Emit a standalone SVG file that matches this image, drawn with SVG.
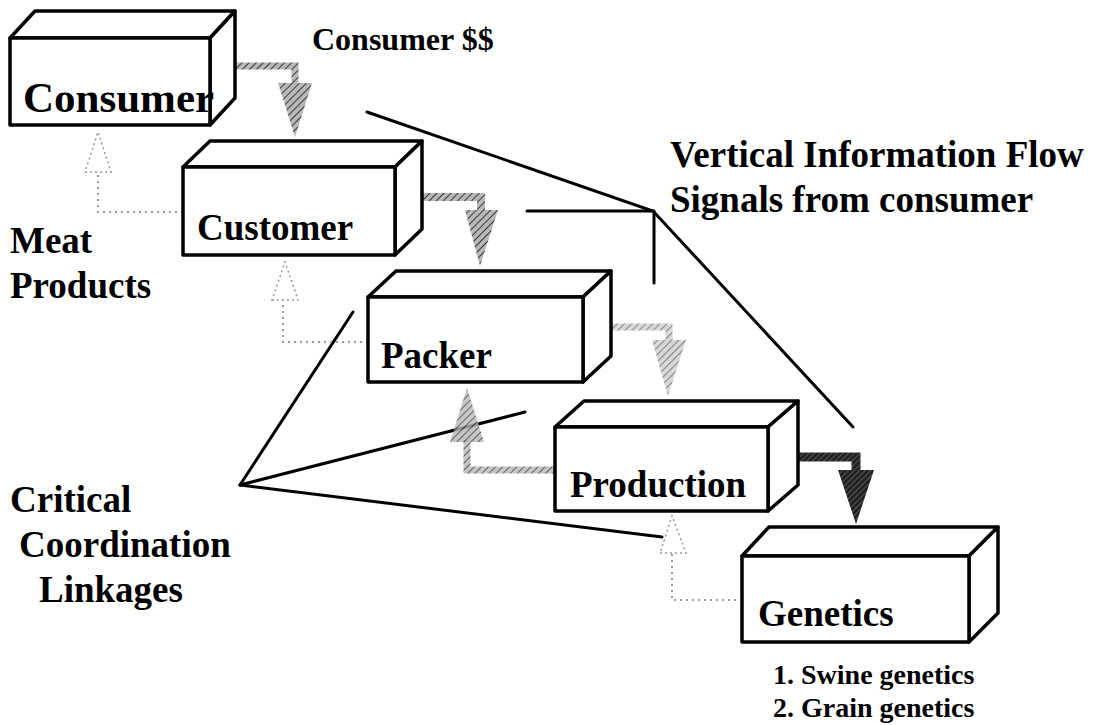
<svg xmlns="http://www.w3.org/2000/svg" width="1106" height="725" viewBox="0 0 1106 725">
<defs>
<pattern id="hatchMid" width="5" height="5" patternUnits="userSpaceOnUse" patternTransform="rotate(45)">
<rect width="5" height="5" fill="#b8b8b8"/>
<line x1="0" y1="0" x2="0" y2="5" stroke="#3a3a3a" stroke-width="2"/>
</pattern>
<pattern id="hatchLight" width="5" height="5" patternUnits="userSpaceOnUse" patternTransform="rotate(45)">
<rect width="5" height="5" fill="#d8d8d8"/>
<line x1="0" y1="0" x2="0" y2="5" stroke="#6a6a6a" stroke-width="1.5"/>
</pattern>
<pattern id="hatchDark" width="4" height="4" patternUnits="userSpaceOnUse" patternTransform="rotate(45)">
<rect width="4" height="4" fill="#222"/>
<line x1="0" y1="0" x2="0" y2="4" stroke="#888" stroke-width="1"/>
</pattern>
</defs>
<style>
.box{fill:#fff;stroke:#000;stroke-width:3.5;stroke-linejoin:round}
.lbl{font-family:"Liberation Serif","Times New Roman",serif;font-weight:bold;fill:#000}
.big{font-size:37px}
.line{stroke:#000;stroke-width:3;fill:none;stroke-linecap:round}
.faint{stroke:#9a9a9a;stroke-width:2;fill:none;stroke-dasharray:2 4}
.fainthead{fill:none;stroke:#9a9a9a;stroke-width:1.5;stroke-dasharray:2 3}
</style>

<g id="connectors">
<polyline class="line" points="367,112 653,211 853,427"/>
<line class="line" x1="527" y1="211" x2="653" y2="211"/>
<line class="line" x1="654" y1="211" x2="654" y2="283"/>
<line class="line" x1="240" y1="485" x2="353" y2="312"/>
<line class="line" x1="240" y1="485" x2="525" y2="412"/>
<line class="line" x1="240" y1="485" x2="662" y2="537"/>

<path d="M235,66 H295 V86" fill="none" stroke="url(#hatchMid)" stroke-width="7"/>
<polygon points="278,83 312,83 295,137" fill="url(#hatchMid)"/>
<path d="M422,197 H481 V212" fill="none" stroke="url(#hatchMid)" stroke-width="8"/>
<polygon points="465,210 498,210 480,266" fill="url(#hatchMid)"/>
<path d="M611,327 H669 V342" fill="none" stroke="url(#hatchLight)" stroke-width="7"/>
<polygon points="652,340 686,340 668,396" fill="url(#hatchLight)"/>
<path d="M798,457 H856 V472" fill="none" stroke="url(#hatchDark)" stroke-width="9"/>
<polygon points="838,470 874,470 856,524" fill="url(#hatchDark)"/>

<path d="M555,470 H467 V440" fill="none" stroke="url(#hatchMid)" stroke-width="7" opacity="0.8"/>
<polygon points="450,442 484,442 467,388" fill="url(#hatchMid)" opacity="0.8"/>
<path class="faint" d="M742,600 H672 V553"/>
<polygon class="fainthead" points="660,553 686,553 672,516"/>
<path class="faint" d="M368,342 H283 V300"/>
<polygon class="fainthead" points="272,300 298,300 285,262"/>
<path class="faint" d="M183,212 H98 V172"/>
<polygon class="fainthead" points="85,172 111,172 98,132"/>
</g>

<g id="consumer">
<polygon class="box" points="10,38 35,11 235,11 210,38"/>
<polygon class="box" points="210,38 235,11 235,98 210,125"/>
<rect class="box" x="10" y="38" width="200" height="87"/>
<text class="lbl" x="23" y="112" font-size="43">Consumer</text>
</g>

<g id="customer">
<polygon class="box" points="183,167 210,141 422,141 395,167"/>
<polygon class="box" points="395,167 422,141 422,229 395,255"/>
<rect class="box" x="183" y="167" width="212" height="88"/>
<text class="lbl big" x="197" y="240">Customer</text>
</g>

<g id="packer">
<polygon class="box" points="368,297 396,271 611,271 583,297"/>
<polygon class="box" points="583,297 611,271 611,356 583,382"/>
<rect class="box" x="368" y="297" width="215" height="85"/>
<text class="lbl big" x="381" y="368">Packer</text>
</g>

<g id="production">
<polygon class="box" points="555,427 584,401 798,401 768,427"/>
<polygon class="box" points="768,427 798,401 798,485 768,511"/>
<rect class="box" x="555" y="427" width="213" height="84"/>
<text class="lbl big" x="570" y="497">Production</text>
</g>

<g id="genetics">
<polygon class="box" points="742,556 769,527 998,527 969,556"/>
<polygon class="box" points="969,556 998,527 998,613 969,642"/>
<rect class="box" x="742" y="556" width="227" height="86"/>
<text class="lbl big" x="758" y="626">Genetics</text>
<text class="lbl" x="773" y="684" font-size="28">1. Swine genetics</text>
<text class="lbl" x="773" y="717" font-size="28">2. Grain genetics</text>
</g>

<g id="labels">
<text class="lbl" x="312" y="50" font-size="32">Consumer $$</text>
<text class="lbl big" x="670" y="167">Vertical Information Flow</text>
<text class="lbl big" x="670" y="212">Signals from consumer</text>
<text class="lbl big" x="10" y="253">Meat</text>
<text class="lbl big" x="10" y="298">Products</text>
<text class="lbl big" x="10" y="512">Critical</text>
<text class="lbl big" x="19" y="557">Coordination</text>
<text class="lbl big" x="39" y="602">Linkages</text>
</g>
</svg>
